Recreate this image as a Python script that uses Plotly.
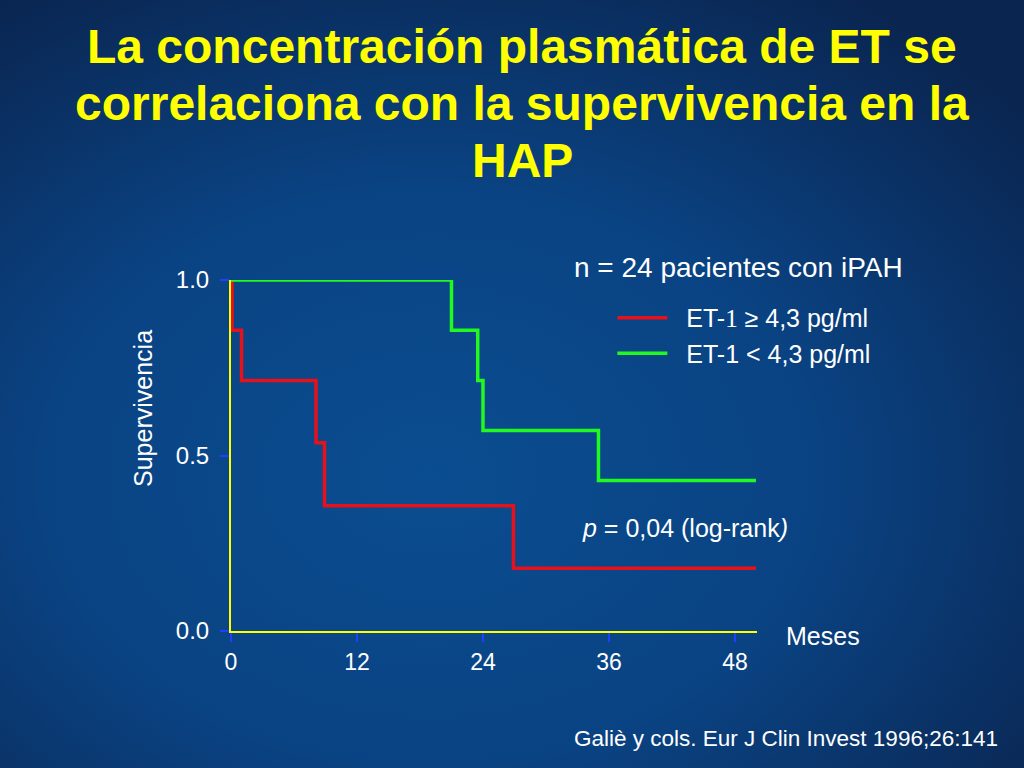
import base64

import plotly.graph_objects as go

# Kaplan-Meier curves (months, survival fraction)
high_et_months = [0, 0.1, 1.0, 8.1, 8.9, 26.9, 50.0]
high_et_surv = [1.0, 0.857, 0.714, 0.536, 0.357, 0.179, 0.179]

low_et_months = [0, 21.0, 23.5, 24.0, 35.0, 50.0]
low_et_surv = [1.0, 0.857, 0.714, 0.571, 0.429, 0.429]

x_ticks = [0, 12, 24, 36, 48]
y_ticks = [0.0, 0.5, 1.0]
y_tick_labels = ["0.0", "0.5", "1.0"]

title_lines = [
    "La concentración plasmática de ET se",
    "correlaciona con la supervivencia en la",
    "HAP",
]

FONT = "Liberation Sans, Arial, Helvetica, sans-serif"
WHITE = "#ffffff"
TICK_BLUE = "#1f3fff"
NBSP = "\u00a0"

# slide background: soft radial blue gradient
bg_svg = """<svg xmlns='http://www.w3.org/2000/svg' width='1024' height='768'>
<defs><radialGradient id='g' cx='0.42' cy='0.62' r='0.75'>
<stop offset='0' stop-color='#0a4d90'/>
<stop offset='0.5' stop-color='#0a4383'/>
<stop offset='1' stop-color='#0a2550'/>
</radialGradient></defs>
<rect width='1024' height='768' fill='url(#g)'/></svg>"""
bg_uri = "data:image/svg+xml;base64," + base64.b64encode(bg_svg.encode()).decode()

fig = go.Figure()
fig.add_trace(go.Scatter(
    x=high_et_months, y=high_et_surv, mode="lines", line_shape="hv",
    line=dict(color="#e6111b", width=3.5), cliponaxis=False,
    name=NBSP * 2 + "ET-<span style='font-family:Liberation Serif'>1</span> \u2265 4,3 pg/ml",
))
fig.add_trace(go.Scatter(
    x=low_et_months, y=low_et_surv, mode="lines", line_shape="hv",
    line=dict(color="#20fa20", width=3.5), cliponaxis=False,
    name=NBSP * 2 + "ET-1 < 4,3 pg/ml",
))

fig.update_layout(
    width=1024, height=768,
    margin=dict(l=0, r=0, t=0, b=0, autoexpand=False),
    paper_bgcolor="#0a3d78",
    plot_bgcolor="rgba(0,0,0,0)",
    font=dict(family=FONT, color=WHITE, size=24),
    images=[dict(source=bg_uri, xref="paper", yref="paper", x=0, y=1,
                 sizex=1, sizey=1, sizing="stretch", layer="below")],
    showlegend=True,
    legend=dict(
        x=0.598, y=0.616, xanchor="left", yanchor="top",
        bgcolor="rgba(0,0,0,0)", font=dict(size=25, color=WHITE),
        itemwidth=50, tracegroupgap=0,
    ),
    xaxis=dict(
        domain=[231 / 1024, 757 / 1024], range=[0, 50.1], automargin=False,
        tickmode="array", tickvals=x_ticks,
        showgrid=False, zeroline=False,
        showline=True, linecolor="#ffff00", linewidth=2,
        ticks="outside", ticklen=9, tickwidth=2, tickcolor=TICK_BLUE,
        tickfont=dict(size=23, color=WHITE),
    ),
    yaxis=dict(
        domain=[1 - 631 / 768, 1 - 280 / 768], range=[0, 1], automargin=False,
        tickmode="array", tickvals=y_ticks, ticktext=y_tick_labels,
        showgrid=False, zeroline=False,
        showline=True, linecolor="#ffff00", linewidth=2,
        ticks="outside", ticklen=9, tickwidth=2, tickcolor=TICK_BLUE,
        tickfont=dict(size=24, color=WHITE), ticklabelstandoff=6,
    ),
)

# title, one line per annotation to keep the slide's tight line spacing
for line, y_px in zip(title_lines, [46, 103, 160]):
    fig.add_annotation(text=line, xref="paper", yref="paper", x=522 / 1024, y=1 - y_px / 768,
                       xanchor="center", yanchor="middle", showarrow=False,
                       font=dict(size=48, color="#ffff00", weight="bold"))

fig.add_annotation(text="Supervivencia", textangle=-90, xref="paper", yref="paper",
                   x=143 / 1024, y=1 - 409 / 768, xanchor="center", yanchor="middle",
                   showarrow=False, font=dict(size=25))
fig.add_annotation(text="Meses", xref="paper", yref="paper", x=784 / 1024, y=1 - 636 / 768,
                   xanchor="left", yanchor="middle", showarrow=False, font=dict(size=25))
fig.add_annotation(text="n = 24 pacientes con iPAH", xref="paper", yref="paper",
                   x=572 / 1024, y=1 - 267 / 768, xanchor="left", yanchor="middle",
                   showarrow=False, font=dict(size=28))
fig.add_annotation(text="<i>p</i> = 0,04 (log-rank<i>)</i>", xref="paper", yref="paper",
                   x=580 / 1024, y=1 - 528 / 768, xanchor="left", yanchor="middle",
                   showarrow=False, font=dict(size=25))
fig.add_annotation(text="Galiè y cols. Eur J Clin Invest 1996;26:141", xref="paper", yref="paper",
                   x=1000 / 1024, y=1 - 738 / 768, xanchor="right", yanchor="middle",
                   showarrow=False, font=dict(size=22.5))

fig.write_html("out.html", config={"displayModeBar": False},
               post_script="document.body.style.margin='0';")
